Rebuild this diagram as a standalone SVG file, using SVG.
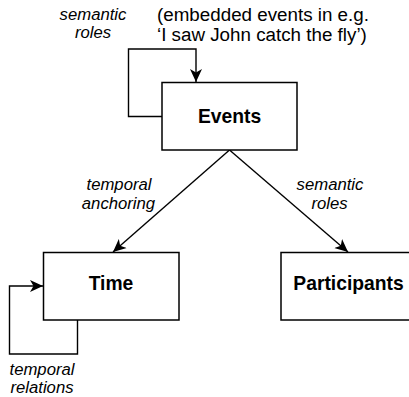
<svg xmlns="http://www.w3.org/2000/svg" width="409" height="397" viewBox="0 0 409 397">
<style>
.box{fill:#fff;stroke:#000;stroke-width:1.5}
.edge{fill:none;stroke:#000;stroke-width:1.4}
.lbl{font-family:"Liberation Sans",Arial,sans-serif;font-style:italic;font-size:16.7px;fill:#000;text-anchor:middle}
.title{font-family:"Liberation Sans",Arial,sans-serif;font-weight:bold;font-size:19.3px;fill:#000;text-anchor:middle}
.note{font-family:"Liberation Sans",Arial,sans-serif;font-size:18.8px;fill:#000}
</style>
<defs>
<marker id="arr" viewBox="-13 -7 14 14" refX="0" refY="0" markerWidth="14" markerHeight="14" markerUnits="userSpaceOnUse" orient="auto">
<path d="M0,0 L-13,-6 L-9.5,0 L-13,6 Z" fill="#000"/>
</marker>
</defs>
<g id="connectors">
<path class="edge" d="M162,116.5 H128.5 V49 H196 V82" marker-end="url(#arr)"/>
<path class="edge" d="M229.5,150 L113,252" marker-end="url(#arr)"/>
<path class="edge" d="M229.5,150 L348,252" marker-end="url(#arr)"/>
<path class="edge" d="M77.5,320 V354 H9.5 V286 H43" marker-end="url(#arr)"/>
</g>
<g id="events">
<rect class="box" x="162" y="82.5" width="135" height="67.5"/>
<text class="title" x="229.5" y="123">Events</text>
</g>
<g id="time">
<rect class="box" x="43.5" y="252.5" width="135.5" height="67.5"/>
<text class="title" x="111" y="290">Time</text>
</g>
<g id="participants">
<rect class="box" x="281" y="252.5" width="135" height="67.5"/>
<text class="title" x="348.5" y="290">Participants</text>
</g>
<g id="labels">
<text class="lbl" x="93" y="19.5">semantic</text>
<text class="lbl" x="93" y="38">roles</text>
<text class="note" x="157" y="21">(embedded events in e.g.</text>
<text class="note" x="157" y="40.5">‘I saw John catch the fly’)</text>
<text class="lbl" x="119" y="189.5">temporal</text>
<text class="lbl" x="118.5" y="208.5">anchoring</text>
<text class="lbl" x="330" y="189.5">semantic</text>
<text class="lbl" x="329.5" y="208.5">roles</text>
<text class="lbl" x="42" y="375">temporal</text>
<text class="lbl" x="42" y="393">relations</text>
</g>
</svg>
